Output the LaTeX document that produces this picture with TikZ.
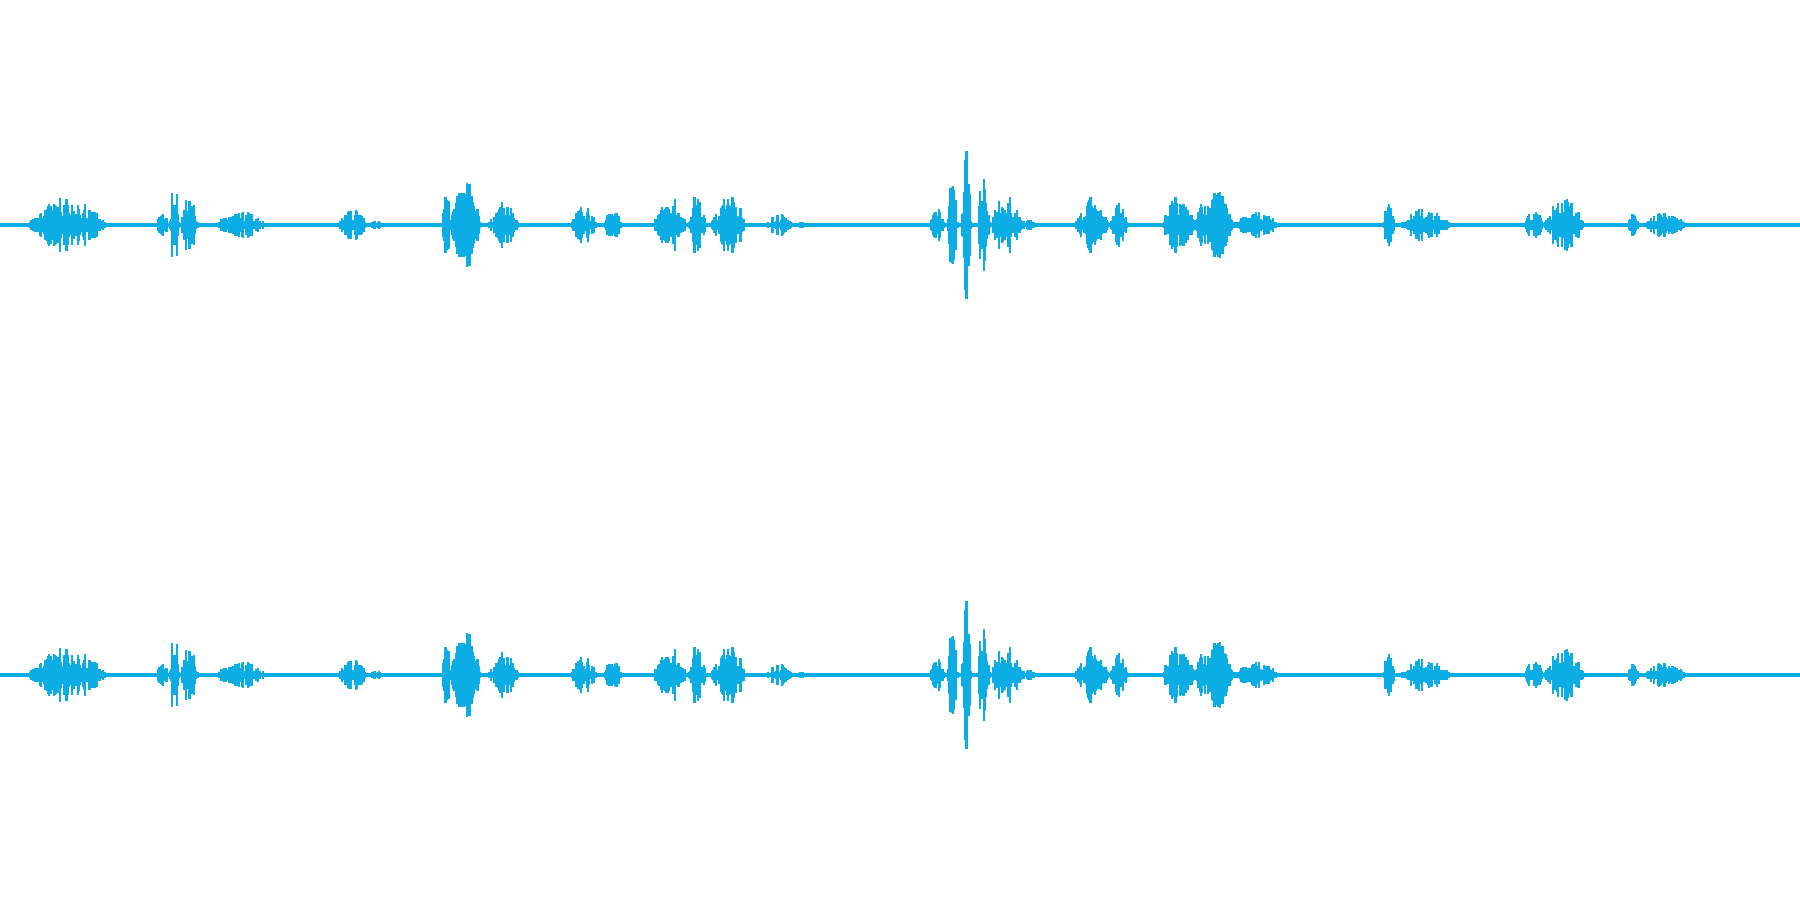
\documentclass[tikz,border=0pt]{standalone}
\usepackage{tikz}
\definecolor{wave}{HTML}{0BADE4}
\tikzset{WaveLine/.style={draw=wave,line width=0.55pt}}
\tikzset{WaveAxis/.style={draw=wave,line width=1.2pt}}
\newcommand{\chA}{588}
\newcommand{\chB}{196}
\begin{document}
\begin{tikzpicture}[x=0.1mm,y=0.1mm]
\useasboundingbox (0,0) rectangle (1568,784);
\pgfmathsetseed{11}
\draw [WaveAxis] (0,\chA) -- (1568,\chA);
\draw [WaveAxis] (0,\chB) -- (1568,\chB);
% bursts: start/end/amplitude
\foreach \a/\b/\amp in {26/92/26,137/146/14,148/156/42,158/172/30,188/232/12,
  295/320/16,320/335/4,385/392/40,393/418/40,426/452/22,497/520/17,526/542/14,
  570/598/25,600/615/28,620/650/26,668/690/10,690/712/3,
  810/822/18,826/834/55,838/846/80,852/862/45,864/890/30,888/905/5,
  937/965/25,968/982/22,1012/1040/25,1040/1075/33,1075/1115/12,
  1205/1215/20,1220/1262/15,1328/1345/14,1345/1380/24,1418/1428/12,1433/1468/12}{
  \pgfmathtruncatemacro{\n}{\b-\a}
  \foreach \i in {0,...,\n}{
    \pgfmathsetmacro{\h}{\amp*(0.25+0.75*rnd)*(0.15+0.85*sin(180*\i/max(\n,1)))}
    \draw [WaveLine] (\a+\i,\chA-\h) -- (\a+\i,\chA+\h);
    \draw [WaveLine] (\a+\i,\chB-\h) -- (\a+\i,\chB+\h);
  }
}
\end{tikzpicture}
\end{document}
